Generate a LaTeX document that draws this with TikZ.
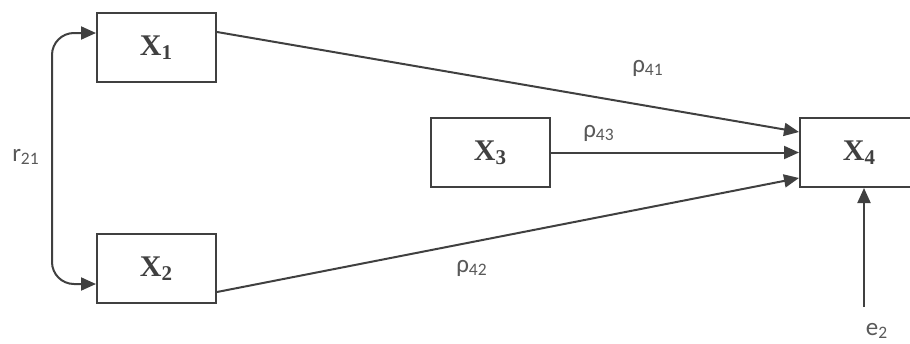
\documentclass[tikz,border=0pt]{standalone}
\usepackage{fontspec}
\setmainfont{Liberation Serif}
\newfontfamily\coeffont{Carlito}
\usepackage{tikz}
\usetikzlibrary{positioning, arrows.meta}
\definecolor{linegray}{HTML}{404040}
\definecolor{labelgray}{HTML}{595959}

\begin{document}
\begin{tikzpicture}[
    x=0.5pt, y=-0.5pt,
    var/.style={draw=linegray, line width=1pt, rectangle, minimum width=59.5pt, minimum height=34.5pt, inner sep=0pt, text=linegray, font=\fontsize{15}{18}\selectfont\bfseries},
    arr/.style={-{Triangle[length=7.5pt, width=6.5pt]}, line width=1pt, draw=linegray},
    coef/.style={font=\coeffont\fontsize{12.5}{15}\selectfont, text=labelgray, inner sep=0pt}
]
    \useasboundingbox (0,0) rectangle (910,343);
    \clip (0,0) rectangle (910,343);

    \node[var] (x1) at (156.5,47.5) {X\textsubscript{1}};
    \node[var] (x2) [below=75pt of x1] {X\textsubscript{2}};
    \node[var] (x3) at (490.5,152.5) {X\textsubscript{3}};
    \node[var] (x4) [right=124pt of x3] {X\textsubscript{4}};

    % correlation between the two exogenous variables
    \coordinate (bend) at (52,157);
    \draw[arr, {Triangle[length=7.5pt, width=6.5pt]}-{Triangle[length=7.5pt, width=6.5pt]}, rounded corners=11pt]
        ([yshift=7.25pt]x1.west) -| (bend) |- ([yshift=-7.75pt]x2.west);
    \node[coef] (r21) at (26,157) {r\textsubscript{21}};

    % paths into X4
    \draw[arr] ([yshift=7.75pt]x1.east) -- ([yshift=10.25pt]x4.west);
    \draw[arr] (x3.east) -- (x4.west);
    \draw[arr] ([yshift=-11.75pt]x2.east) -- ([yshift=-12.75pt]x4.west);

    \node[coef] (p41) at (648,68) {ρ\textsubscript{41}};
    \node[coef] (p43) at (599,133) {ρ\textsubscript{43}};
    \node[coef] (p42) at (472,268) {ρ\textsubscript{42}};

    % residual
    \coordinate (err) at (864,307);
    \draw[arr] (err) -- (err |- x4.south);
    \node[coef] (e2) at (877,331) {e\textsubscript{2}};
\end{tikzpicture}
\end{document}
